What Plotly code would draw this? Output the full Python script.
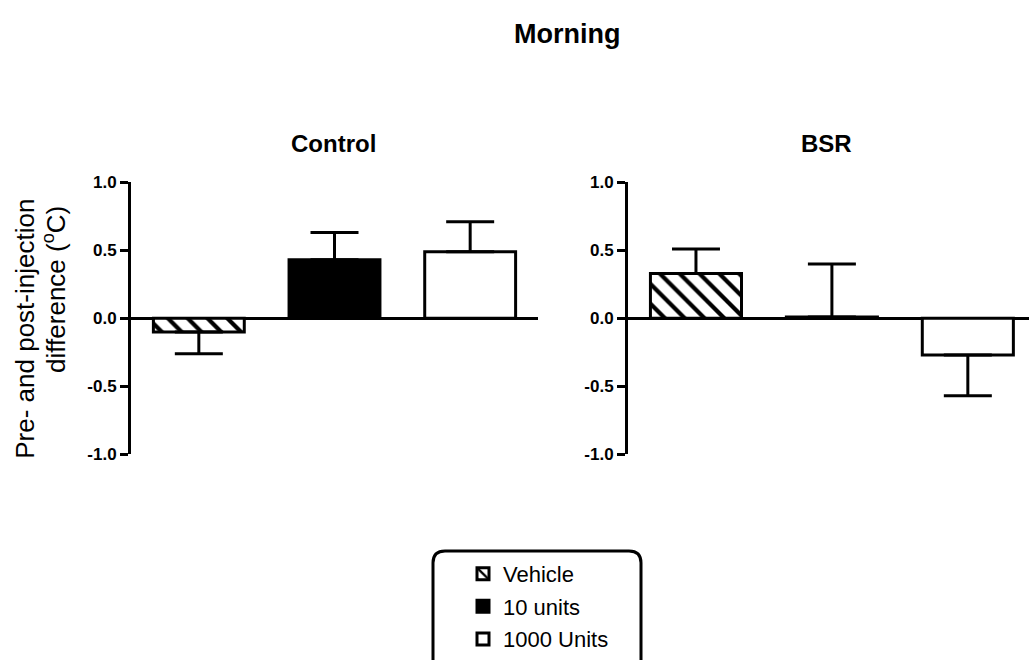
import plotly.graph_objects as go

# ---- data ----
groups = ["Vehicle", "10 units", "1000 Units"]
panels = ["Control", "BSR"]
control_means = [-0.10, 0.43, 0.49]
control_errs = [0.16, 0.20, 0.22]
bsr_means = [0.33, 0.01, -0.27]
bsr_errs = [0.18, 0.39, 0.30]
tick_vals = [-1.0, -0.5, 0.0, 0.5, 1.0]
tick_text = ["-1.0", "-0.5", "0.0", "0.5", "1.0"]
ytitle_lines = ["Pre- and post-injection", "difference (<sup>o</sup>C)"]

W, H = 1029, 660
SY = 0.981  # observed vertical squash of the photographed page
FONT = "Liberation Sans, Arial, sans-serif"


def px2x(px):
    return px / W


def px2y(py):
    return 1 - (py / SY) / H


styles = {
    "Vehicle": dict(color="white", pattern=dict(shape="\\", fgcolor="black", bgcolor="white",
                                                 size=14, solidity=0.3, fillmode="replace")),
    "10 units": dict(color="black"),
    "1000 Units": dict(color="white"),
}

fig = go.Figure()

panel_data = [(control_means, control_errs, "x", "y"), (bsr_means, bsr_errs, "x2", "y2")]
for p, (means, errs, xa, ya) in enumerate(panel_data):
    for i, g in enumerate(groups):
        v, e = means[i], errs[i]
        plus = e if v >= 0 else 0
        minus = e if v < 0 else 0
        st = styles[g]
        marker = dict(color=st["color"], line=dict(color="black", width=3))
        if "pattern" in st:
            marker["pattern"] = st["pattern"]
        fig.add_trace(go.Bar(
            x=[i], y=[v], width=0.67, name=g, legendgroup=g, showlegend=(p == 0),
            marker=marker,
            error_y=dict(type="data", symmetric=False, array=[plus], arrayminus=[minus],
                         color="black", thickness=3, width=24),
            xaxis=xa, yaxis=ya,
        ))

yax = dict(range=[-1, 1], tickvals=tick_vals, ticktext=tick_text, ticks="outside",
           ticklen=8, tickwidth=3, tickcolor="black", showline=True, linewidth=3,
           linecolor="black", zeroline=True, zerolinewidth=3, zerolinecolor="black",
           showgrid=False, automargin=False,
           tickfont=dict(family=FONT, size=17, color="black", weight="bold"),
           domain=[px2y(456), px2y(183)])
xax = dict(showticklabels=False, showline=False, zeroline=False, showgrid=False,
           ticks="", automargin=False, fixedrange=True)

# rounded legend box
x0, x1, y0, y1, r = 433, 641, 553, 700, 12
path = (f"M {px2x(x0 + r)},{px2y(y0)} L {px2x(x1 - r)},{px2y(y0)} "
        f"Q {px2x(x1)},{px2y(y0)} {px2x(x1)},{px2y(y0 + r)} "
        f"L {px2x(x1)},{px2y(y1)} L {px2x(x0)},{px2y(y1)} "
        f"L {px2x(x0)},{px2y(y0 + r)} Q {px2x(x0)},{px2y(y0)} {px2x(x0 + r)},{px2y(y0)} ")

fig.update_layout(
    template="none",
    width=W, height=H, autosize=False,
    margin=dict(l=0, r=0, t=0, b=0, pad=0),
    paper_bgcolor="white", plot_bgcolor="white",
    font=dict(family=FONT, color="black"),
    barmode="overlay",
    xaxis=dict(xax, domain=[px2x(131), px2x(538)], range=[-0.5, 2.5]),
    xaxis2=dict(xax, domain=[px2x(628), 1.0], range=[-0.5, 2.45]),
    yaxis=dict(yax, anchor="x"),
    yaxis2=dict(yax, anchor="x2"),
    showlegend=True,
    legend=dict(x=px2x(463), y=px2y(555), xanchor="left", yanchor="top",
                bgcolor="rgba(0,0,0,0)", borderwidth=0, tracegroupgap=1,
                font=dict(family=FONT, size=22, color="black")),
    shapes=[dict(type="path", xref="paper", yref="paper", path=path,
                 line=dict(color="black", width=3), fillcolor="rgba(0,0,0,0)", layer="below")],
    annotations=[
        dict(text="<b>Morning</b>", x=px2x(567), y=px2y(34), xref="paper", yref="paper",
             showarrow=False, xanchor="center", yanchor="middle",
             font=dict(family=FONT, size=27, color="black")),
        dict(text="<b>" + panels[0] + "</b>", x=px2x(333), y=px2y(144), xref="paper", yref="paper",
             showarrow=False, xanchor="center", yanchor="middle",
             font=dict(family=FONT, size=24, color="black")),
        dict(text="<b>" + panels[1] + "</b>", x=px2x(826), y=px2y(144), xref="paper", yref="paper",
             showarrow=False, xanchor="center", yanchor="middle",
             font=dict(family=FONT, size=24, color="black")),
        dict(text=ytitle_lines[0], x=px2x(25), y=px2y(330),
             xref="paper", yref="paper", showarrow=False, xanchor="center", yanchor="middle",
             textangle=-90, font=dict(family=FONT, size=26, color="black")),
        dict(text=ytitle_lines[1], x=px2x(55), y=px2y(291),
             xref="paper", yref="paper", showarrow=False, xanchor="center", yanchor="middle",
             textangle=-90, font=dict(family=FONT, size=26, color="black")),
    ],
)

fig.write_html(
    "out.html",
    config={"displayModeBar": False},
    post_script="document.body.style.margin='0';document.body.style.overflow='hidden';",
)
